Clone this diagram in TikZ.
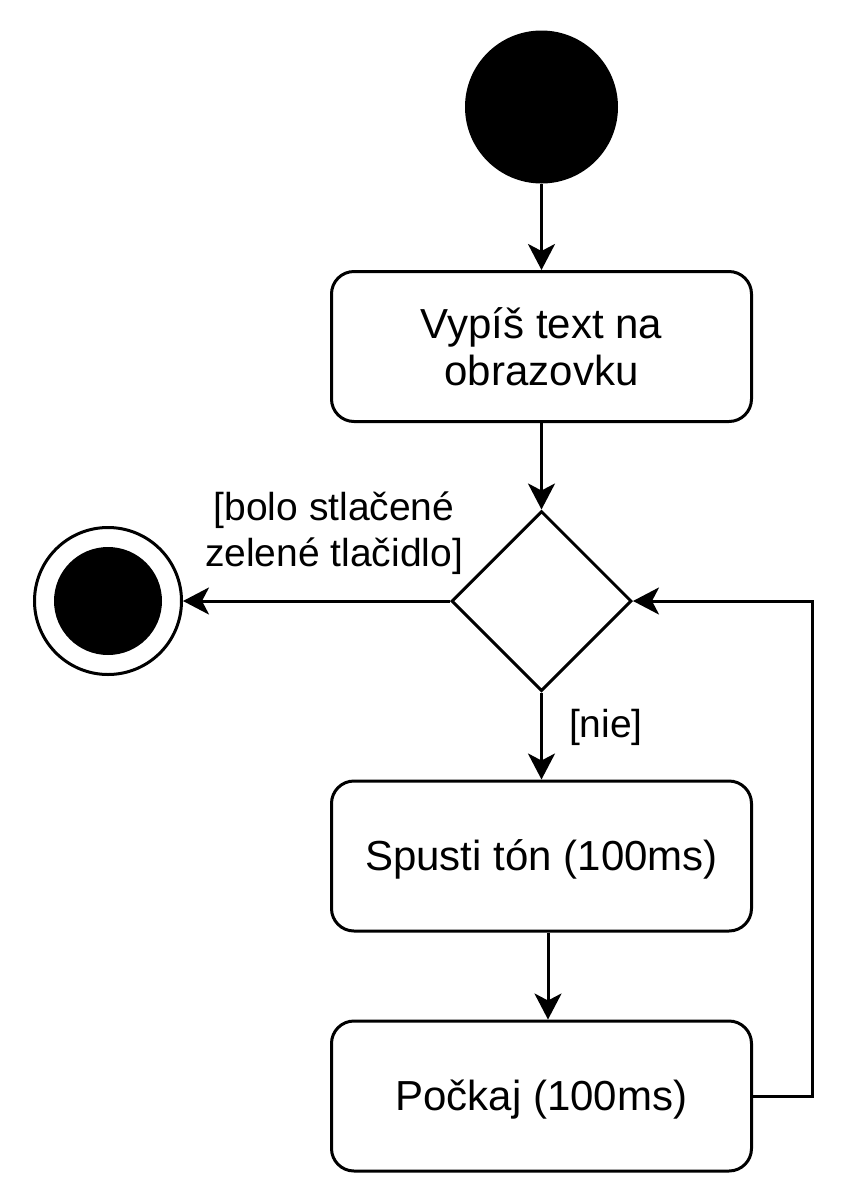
\documentclass[tikz,border=0pt]{standalone}
\usepackage{fontspec}
\setmainfont{Liberation Sans}
\usetikzlibrary{arrows.meta,shapes.geometric}
\begin{document}
\begin{tikzpicture}[x=1pt,y=-1pt, line width=3pt,
  box/.style={draw, rounded corners=22.5pt, minimum width=420pt, minimum height=150pt, inner sep=0pt, font=\fontsize{42pt}{47pt}\selectfont, align=center},
  oneline/.style={text height=40pt, text depth=10.6pt},
  arr/.style={-{Stealth[length=26pt,width=27pt,inset=7pt]}},
  lbl/.style={font=\fontsize{39pt}{46pt}\selectfont, inner sep=0pt, align=center}]
\useasboundingbox (0,0) rectangle (867,1203);
\node[circle, draw, fill=black, minimum size=150pt, inner sep=0pt] (start) at (541.5,107) {};
\node[box] (b1) at (541.5,346.5) {Vypíš text na\\obrazovku};
\node[diamond, draw, minimum width=180pt, minimum height=180pt, inner sep=0pt] (dec) at (541.5,601) {};
\node[box, oneline] (b2) at (541.5,856) {Spusti tón (100ms)};
\node[box, oneline] (b3) at (541.5,1096) {Počkaj (100ms)};
\node[circle, draw, minimum size=147pt, inner sep=0pt] (end) at (108,601) {};
\node[circle, fill=black, minimum size=108pt, inner sep=0pt] (endin) at (108,601) {};
\coordinate (loop) at (812,601);
\draw[arr] (start) -- (b1);
\draw[arr] (b1) -- (dec);
\draw[arr] (dec.west) -- (end.east);
\draw[arr] (dec.south) -- (b2.north);
\draw[arr] ([xshift=6.5pt]b2.south) -- ([xshift=6.5pt]b3.north);
\draw[arr] (b3.east) -| (loop) -- (dec.east);
\node[lbl] (l1) at (334,533.5) {[bolo stlačené\\zelené tlačidlo]};
\node[lbl, anchor=base west] (l2) at (567.5,737) {[nie]};
\end{tikzpicture}
\end{document}
